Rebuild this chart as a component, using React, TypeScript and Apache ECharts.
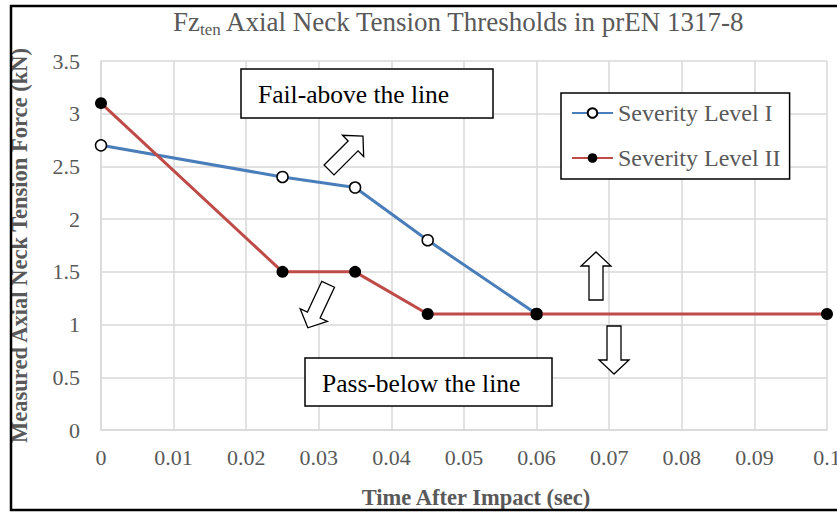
import React, { useEffect, useRef } from "react";
import * as echarts from "echarts";

const timeI = [0, 0.025, 0.035, 0.045, 0.06];
const levelI = [2.7, 2.4, 2.3, 1.8, 1.1];
const timeII = [0, 0.025, 0.035, 0.045, 0.06, 0.1];
const levelII = [3.1, 1.5, 1.5, 1.1, 1.1, 1.1];
const seriesNames = ["Severity Level I", "Severity Level II"];
const xTickLabels = ["0", "0.01", "0.02", "0.03", "0.04", "0.05", "0.06", "0.07", "0.08", "0.09", "0.1"];

const SERIF = "'Liberation Serif', 'DejaVu Serif', serif";
const GRAY = "#595959";

const arrowPts = [
  [0, -24],
  [15, -10],
  [7, -10],
  [7, 24],
  [-7, 24],
  [-7, -10],
  [-15, -10],
];

function arrow(x: number, y: number, rotation: number) {
  return {
    type: "polygon",
    x,
    y,
    rotation,
    shape: { points: arrowPts },
    style: { fill: "#fff", stroke: "#000", lineWidth: 1.3 },
    z: 10,
  };
}

export default function App() {
  const ref = useRef<HTMLDivElement>(null);
  useEffect(() => {
    const chart = echarts.init(ref.current!, null, { renderer: "svg" });
    chart.setOption({
      animation: false,
      backgroundColor: "#fff",
      title: {
        text: "{a|Fz}{b|ten}{a| Axial Neck Tension Thresholds in prEN 1317-8}",
        left: 168,
        top: 1,
        textStyle: {
          fontWeight: "normal",
          rich: {
            a: { fontFamily: SERIF, fontSize: 27, fontWeight: "normal", color: GRAY },
            b: { fontFamily: SERIF, fontSize: 17, fontWeight: "normal", color: GRAY, padding: [15, 0, 0, 0] },
          },
        },
      },
      legend: {
        data: seriesNames,
        orient: "vertical",
        left: 561,
        top: 93,
        borderColor: "#000",
        borderWidth: 1.5,
        backgroundColor: "#fff",
        padding: [8, 9, 9, 10],
        itemGap: 21,
        itemWidth: 41,
        itemHeight: 12,
        textStyle: { fontFamily: SERIF, fontSize: 24, color: GRAY },
      },
      grid: { left: 101, right: 10, top: 61, bottom: 83, containLabel: false, outerBoundsMode: "none" },
      xAxis: {
        type: "value",
        min: 0,
        max: 0.1,
        interval: 0.01,
        name: "Time After Impact (sec)",
        nameLocation: "middle",
        nameGap: 56,
        nameTextStyle: { fontFamily: SERIF, fontSize: 22.5, fontWeight: "bold", color: GRAY, padding: [0, 0, 0, 24] },
        axisLine: { show: true, lineStyle: { color: "#d9d9d9", width: 1.5 } },
        axisTick: { show: false },
        splitLine: { show: true, lineStyle: { color: "#d9d9d9", width: 1.5 } },
        axisLabel: {
          fontFamily: SERIF,
          fontSize: 22,
          color: GRAY,
          margin: 16,
          formatter: (v: number) => xTickLabels[Math.round(v * 100)] ?? "",
        },
      },
      yAxis: {
        type: "value",
        min: 0,
        max: 3.5,
        interval: 0.5,
        name: "Measured Axial Neck Tension Force (kN)",
        nameLocation: "middle",
        nameGap: 70,
        nameTextStyle: { fontFamily: SERIF, fontSize: 22.5, fontWeight: "bold", color: GRAY, padding: [0, 0, 0, 0] },
        axisLine: { show: true, lineStyle: { color: "#d9d9d9", width: 1.5 } },
        axisTick: { show: false },
        splitLine: { show: true, lineStyle: { color: "#d9d9d9", width: 1.5 } },
        axisLabel: { fontFamily: SERIF, fontSize: 22, color: GRAY, margin: 21 },
      },
      series: [
        {
          name: seriesNames[0],
          type: "line",
          data: timeI.map((t, i) => [t, levelI[i]]),
          symbol: "circle",
          symbolSize: 11,
          lineStyle: { color: "#4a7ebb", width: 3 },
          itemStyle: { color: "#fff", borderColor: "#000", borderWidth: 1.5 },
          z: 3,
        },
        {
          name: seriesNames[1],
          type: "line",
          data: timeII.map((t, i) => [t, levelII[i]]),
          symbol: "circle",
          symbolSize: 12,
          lineStyle: { color: "#be4b48", width: 3 },
          itemStyle: { color: "#000", borderColor: "#000", borderWidth: 0 },
          z: 4,
        },
      ],
      graphic: [
        {
          type: "rect",
          shape: { x: 11, y: 6, width: 860, height: 504 },
          style: { fill: "none", stroke: "#000", lineWidth: 2.5 },
          silent: true,
          z: 100,
        },
        {
          type: "rect",
          shape: { x: 241, y: 69, width: 252, height: 49 },
          style: { fill: "#fff", stroke: "#000", lineWidth: 1.5 },
          z: 10,
        },
        {
          type: "text",
          x: 258,
          y: 94,
          style: { text: "Fail-above the line", font: `25.5px ${SERIF}`, fill: "#000", verticalAlign: "middle" },
          z: 11,
        },
        {
          type: "rect",
          shape: { x: 305, y: 358, width: 247, height: 48 },
          style: { fill: "#fff", stroke: "#000", lineWidth: 1.5 },
          z: 10,
        },
        {
          type: "text",
          x: 322,
          y: 383,
          style: { text: "Pass-below the line", font: `25.5px ${SERIF}`, fill: "#000", verticalAlign: "middle" },
          z: 11,
        },
        arrow(596, 276, 0),
        arrow(614, 350, Math.PI),
        arrow(346, 153, -Math.PI / 4),
        arrow(318, 306, (155 * Math.PI) / 180),
      ],
    });
    return () => chart.dispose();
  }, []);
  return <div ref={ref} style={{ position: "fixed", left: 0, top: 0, width: 837, height: 513 }} />;
}
